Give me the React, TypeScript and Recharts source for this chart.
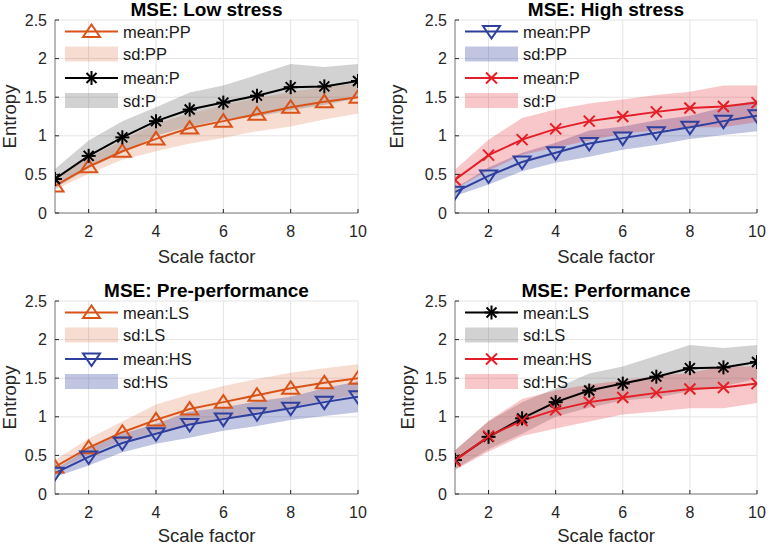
import {
  Area,
  CartesianGrid,
  ComposedChart,
  Label,
  Legend,
  Line,
  XAxis,
  YAxis,
} from "recharts";

const scaleFactor = [1, 2, 3, 4, 5, 6, 7, 8, 9, 10];
const xTicks = [2, 4, 6, 8, 10];
const yTicks = [0, 0.5, 1, 1.5, 2, 2.5];

// low stress, pre-performance (PP / LS)
const lowPreMean = [0.35, 0.6, 0.8, 0.96, 1.1, 1.19, 1.28, 1.37, 1.44, 1.5];
const lowPreLow = [0.3, 0.51, 0.69, 0.8, 0.9, 0.97, 1.06, 1.12, 1.21, 1.29];
const lowPreHigh = [0.44, 0.72, 0.94, 1.16, 1.29, 1.4, 1.49, 1.57, 1.63, 1.68];

// low stress, performance (P / LS)
const lowPerfMean = [0.44, 0.74, 0.98, 1.19, 1.34, 1.43, 1.52, 1.63, 1.64, 1.71];
const lowPerfLow = [0.32, 0.58, 0.78, 1.0, 1.12, 1.21, 1.25, 1.33, 1.4, 1.49];
const lowPerfHigh = [0.57, 0.94, 1.19, 1.37, 1.56, 1.65, 1.79, 1.93, 1.89, 1.93];

// high stress, pre-performance (PP / HS)
const highPreMean = [0.27, 0.48, 0.66, 0.78, 0.9, 0.97, 1.04, 1.11, 1.19, 1.26];
const highPreLow = [0.22, 0.37, 0.54, 0.65, 0.73, 0.82, 0.88, 0.96, 1.01, 1.06];
const highPreHigh = [0.32, 0.59, 0.78, 0.91, 1.07, 1.12, 1.2, 1.26, 1.37, 1.46];

// high stress, performance (P / HS)
const highPerfMean = [0.43, 0.75, 0.95, 1.09, 1.19, 1.25, 1.31, 1.36, 1.38, 1.43];
const highPerfLow = [0.31, 0.55, 0.75, 0.85, 0.94, 1.03, 1.07, 1.11, 1.11, 1.18];
const highPerfHigh = [0.56, 0.95, 1.23, 1.34, 1.42, 1.47, 1.53, 1.57, 1.65, 1.65];

const FONT = "'Liberation Sans', Arial, Helvetica, sans-serif";
const TEXT = "#262626";
const BOX = "#808080";
const GRID = "#e4e4e4";

type MarkerKind = "up" | "down" | "star" | "cross";

interface Group {
  mean: number[];
  low: number[];
  high: number[];
  color: string;
  band: string;
  bandOpacity: number;
  marker: MarkerKind;
}

const lowPre: Group = {
  mean: lowPreMean, low: lowPreLow, high: lowPreHigh,
  color: "#D95319", band: "#D95319", bandOpacity: 0.2, marker: "up",
};
const lowPerf: Group = {
  mean: lowPerfMean, low: lowPerfLow, high: lowPerfHigh,
  color: "#000000", band: "#6b6b6b", bandOpacity: 0.3, marker: "star",
};
const highPre: Group = {
  mean: highPreMean, low: highPreLow, high: highPreHigh,
  color: "#2E3F9E", band: "#2E3F9E", bandOpacity: 0.3, marker: "down",
};
const highPerf: Group = {
  mean: highPerfMean, low: highPerfLow, high: highPerfHigh,
  color: "#E41E26", band: "#E41E26", bandOpacity: 0.25, marker: "cross",
};

function MarkerShape({ kind, cx, cy, color }: { kind: MarkerKind; cx: number; cy: number; color: string }) {
  if (kind === "up") {
    return (
      <polygon
        points={`${cx},${cy - 7} ${cx - 8.5},${cy + 5.5} ${cx + 8.5},${cy + 5.5}`}
        fill="none" stroke={color} strokeWidth={2}
      />
    );
  }
  if (kind === "down") {
    return (
      <polygon
        points={`${cx},${cy + 7} ${cx - 8.5},${cy - 5.5} ${cx + 8.5},${cy - 5.5}`}
        fill="none" stroke={color} strokeWidth={2}
      />
    );
  }
  if (kind === "star") {
    const r = 7;
    const d = 5;
    return (
      <g stroke={color} strokeWidth={2}>
        <line x1={cx - r} y1={cy} x2={cx + r} y2={cy} />
        <line x1={cx} y1={cy - r} x2={cx} y2={cy + r} />
        <line x1={cx - d} y1={cy - d} x2={cx + d} y2={cy + d} />
        <line x1={cx - d} y1={cy + d} x2={cx + d} y2={cy - d} />
      </g>
    );
  }
  const d = 5.5;
  return (
    <g stroke={color} strokeWidth={2}>
      <line x1={cx - d} y1={cy - d} x2={cx + d} y2={cy + d} />
      <line x1={cx - d} y1={cy + d} x2={cx + d} y2={cy - d} />
    </g>
  );
}

const LEG_W = 140;
const LEG_H = 93;

// transparent legend, drawn over the plot like the MATLAB one
function LegendBox({ a, b, names }: { a: Group; b: Group; names: string[] }) {
  const rowY = [11.5, 34, 58, 80.5];
  const groups = [a, b];
  return (
    <svg width={LEG_W} height={LEG_H} style={{ display: "block", overflow: "visible" }}>
      {groups.map((g, i) => (
        <g key={i}>
          <line x1={10} x2={63} y1={rowY[i * 2]} y2={rowY[i * 2]} stroke={g.color} strokeWidth={2} />
          <MarkerShape kind={g.marker} cx={36.5} cy={rowY[i * 2]} color={g.color} />
          <rect x={10} y={rowY[i * 2 + 1] - 7.5} width={53} height={15} fill={g.band} fillOpacity={g.bandOpacity} />
        </g>
      ))}
      {names.map((n, i) => (
        <text key={n} x={68} y={rowY[i]} dominantBaseline="central" fontSize={16.5} fontFamily={FONT} fill="#1a1a1a">
          {n}
        </text>
      ))}
    </svg>
  );
}

interface PanelProps {
  title: string;
  a: Group;
  b: Group;
  names: string[];
  left: number;
  top: number;
  plotLeft: number;
  plotTop: number;
  plotRight: number;
  plotBottom: number;
  ylabelX: number;
  xlabelOffset: number;
}

const W = 384;
const H = 273;

function Panel(p: PanelProps) {
  const data = scaleFactor.map((x, i) => ({
    x,
    aMean: p.a.mean[i],
    bMean: p.b.mean[i],
    aBand: [p.a.low[i], p.a.high[i]],
    bBand: [p.b.low[i], p.b.high[i]],
  }));
  const yAxisW = 40;
  const xAxisH = 30;
  const margin = {
    left: p.plotLeft - yAxisW,
    top: p.plotTop,
    right: W - p.plotRight,
    bottom: H - p.plotBottom - xAxisH,
  };
  const midY = (p.plotTop + p.plotBottom) / 2;
  const dot = (g: Group) => (props: any) => (
    <MarkerShape key={`m-${props.index}`} kind={g.marker} cx={props.cx} cy={props.cy} color={g.color} />
  );
  return (
    <div style={{ position: "absolute", left: p.left, top: p.top, width: W, height: H }}>
      <ComposedChart width={W} height={H} data={data} margin={margin}>
        <CartesianGrid stroke={GRID} strokeWidth={1} />
        <XAxis
          dataKey="x" type="number" domain={[1, 10]} ticks={xTicks}
          axisLine={{ stroke: BOX }} tickLine={{ stroke: TEXT }}
          tickSize={-4} tickMargin={17} height={xAxisH}
          tick={{ fontSize: 16, fill: TEXT, fontFamily: FONT }}
          allowDataOverflow
        >
          <Label
            value="Scale factor" position="bottom" offset={p.xlabelOffset}
            style={{ fontSize: 18.5, fill: TEXT, fontFamily: FONT }}
          />
        </XAxis>
        <XAxis xAxisId="top" orientation="top" dataKey="x" type="number" domain={[1, 10]}
          height={0} tick={false} tickLine={false} axisLine={{ stroke: BOX }} />
        <YAxis
          type="number" domain={[0, 2.5]} ticks={yTicks} width={yAxisW}
          axisLine={{ stroke: BOX }} tickLine={{ stroke: TEXT }}
          tickSize={-4} tickMargin={12}
          tick={{ fontSize: 16, fill: TEXT, fontFamily: FONT }}
          allowDataOverflow
        >
          <Label
            content={() => (
              <text
                x={p.ylabelX} y={midY} transform={`rotate(-90, ${p.ylabelX}, ${midY})`}
                textAnchor="middle" fontSize={18.5} fill={TEXT} fontFamily={FONT}
              >
                Entropy
              </text>
            )}
          />
        </YAxis>
        <YAxis yAxisId="right" orientation="right" type="number" domain={[0, 2.5]}
          width={0} tick={false} tickLine={false} axisLine={{ stroke: BOX }} />
        <Area dataKey="aBand" type="linear" stroke="none" fill={p.a.band} fillOpacity={p.a.bandOpacity}
          isAnimationActive={false} activeDot={false} dot={false} />
        <Area dataKey="bBand" type="linear" stroke="none" fill={p.b.band} fillOpacity={p.b.bandOpacity}
          isAnimationActive={false} activeDot={false} dot={false} />
        <Line dataKey="aMean" type="linear" stroke={p.a.color} strokeWidth={2}
          dot={dot(p.a)} activeDot={false} isAnimationActive={false} />
        <Line dataKey="bMean" type="linear" stroke={p.b.color} strokeWidth={2}
          dot={dot(p.b)} activeDot={false} isAnimationActive={false} />
        <Legend
          layout="vertical" align="center" verticalAlign="middle"
          wrapperStyle={{ left: p.plotLeft, top: p.plotTop, width: LEG_W, height: LEG_H }}
          content={() => <LegendBox a={p.a} b={p.b} names={p.names} />}
        />
        <text
          x={(p.plotLeft + p.plotRight) / 2} y={p.plotTop - 4.5} textAnchor="middle"
          fontSize={19} fontWeight="bold" fill="#000" fontFamily={FONT}
        >
          {p.title}
        </text>
      </ComposedChart>
    </div>
  );
}

export default function App() {
  return (
    <div style={{ position: "absolute", left: 0, top: 0, width: 768, height: 546, background: "#fff" }}>
      <Panel title="MSE: Low stress" a={lowPre} b={lowPerf}
        names={["mean:PP", "sd:PP", "mean:P", "sd:P"]}
        left={0} top={0} plotLeft={55} plotTop={20} plotRight={358} plotBottom={213}
        ylabelX={16} xlabelOffset={7} />
      <Panel title="MSE: High stress" a={highPre} b={highPerf}
        names={["mean:PP", "sd:PP", "mean:P", "sd:P"]}
        left={384} top={0} plotLeft={71} plotTop={20} plotRight={373} plotBottom={213}
        ylabelX={19} xlabelOffset={7} />
      <Panel title="MSE: Pre-performance" a={lowPre} b={highPre}
        names={["mean:LS", "sd:LS", "mean:HS", "sd:HS"]}
        left={0} top={273} plotLeft={55} plotTop={28} plotRight={358} plotBottom={221}
        ylabelX={16} xlabelOffset={4.5} />
      <Panel title="MSE: Performance" a={lowPerf} b={highPerf}
        names={["mean:LS", "sd:LS", "mean:HS", "sd:HS"]}
        left={384} top={273} plotLeft={71} plotTop={28} plotRight={373} plotBottom={221}
        ylabelX={30} xlabelOffset={4.5} />
    </div>
  );
}
